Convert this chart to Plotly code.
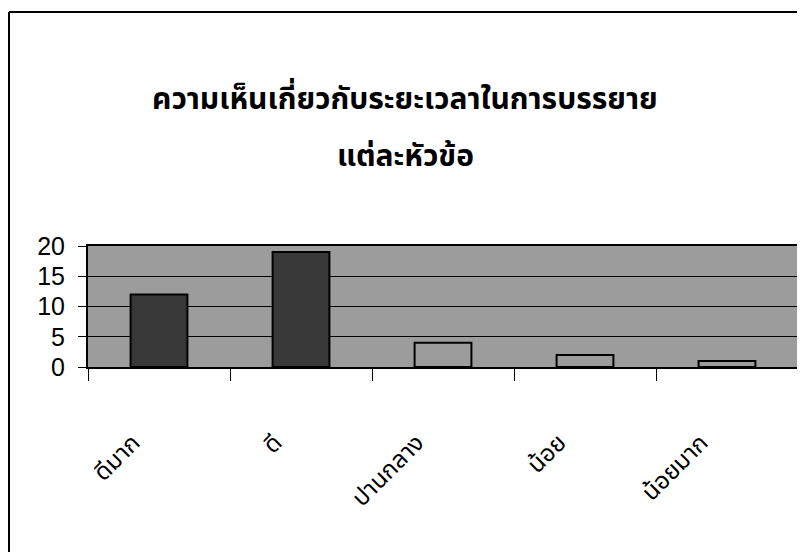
import plotly.graph_objects as go

categories = ["ดีมาก", "ดี", "ปานกลาง", "น้อย", "น้อยมาก"]
values = [12, 19, 4, 2, 1]
bar_colors = ["#383838", "#383838", "#9c9c9c", "#9c9c9c", "#9c9c9c"]
title_line1 = "ความเห็นเกี่ยวกับระยะเวลาในการบรรยาย"
title_line2 = "แต่ละหัวข้อ"
y_ticks = [0, 5, 10, 15, 20]

THAI = "Noto Sans Thai, Loma, Garuda, Tlwg Typo, Noto Sans, sans-serif"

# page offset of the plotly div (default body margin)
OFF = 8
PL, PR, PT, PB = 88 - OFF, 798 - OFF, 246 - OFF, 367 - OFF
W, H = 805, 552
pw, ph = PR - PL, PB - PT

def px_x(x):
    return (x - OFF - PL) / pw

def px_y(y):
    return (PB - (y - OFF)) / ph

fig = go.Figure()
fig.add_trace(go.Bar(
    x=categories, y=values,
    marker=dict(color=bar_colors, line=dict(color="black", width=2)),
    width=0.4,
))

fig.update_layout(
    width=W, height=H,
    margin=dict(l=PL, r=W - PR, t=PT, b=H - PB, autoexpand=False),
    paper_bgcolor="white",
    plot_bgcolor="#9c9c9c",
    showlegend=False,
    bargap=0.6,
    annotations=[
        dict(text="<b>" + title_line1 + "</b>", x=px_x(405), y=px_y(100),
             xref="paper", yref="paper", showarrow=False,
             font=dict(family=THAI, size=30, color="black"),
             xanchor="center", yanchor="middle"),
        dict(text="<b>" + title_line2 + "</b>", x=px_x(405), y=px_y(157),
             xref="paper", yref="paper", showarrow=False,
             font=dict(family=THAI, size=30, color="black"),
             xanchor="center", yanchor="middle"),
    ],
)

fig.update_yaxes(
    range=[0, 20], tickvals=y_ticks,
    showgrid=True, gridcolor="black", gridwidth=1,
    showline=True, linecolor="black", linewidth=2, mirror=True,
    ticks="outside", ticklen=8, tickcolor="black", tickwidth=1,
    tickfont=dict(family="Liberation Sans, Arial, sans-serif", size=25, color="black"),
    ticklabelstandoff=8,
    zeroline=False,
)
fig.update_xaxes(
    tickangle=-45, tickson="boundaries",
    showline=True, linecolor="black", linewidth=2, mirror=True,
    ticks="outside", ticklen=12, tickcolor="black", tickwidth=1,
    tickfont=dict(family=THAI, size=24, color="black"),
    ticklabelstandoff=50, ticklabelshift=-26,
)

# outer frame (left and top edges visible)
fig.add_shape(type="line", xref="paper", yref="paper",
              x0=px_x(9), x1=px_x(9), y0=px_y(12), y1=px_y(600),
              line=dict(color="black", width=2))
fig.add_shape(type="line", xref="paper", yref="paper",
              x0=px_x(9), x1=px_x(830), y0=px_y(12), y1=px_y(12),
              line=dict(color="black", width=2))

fig.write_html("out.html")
